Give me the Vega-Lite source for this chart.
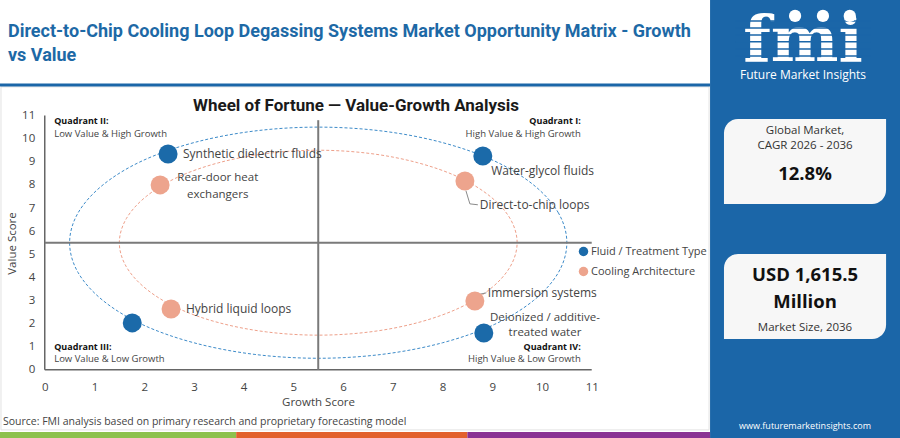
{
  "$schema": "https://vega.github.io/schema/vega-lite/v6.json",
  "width": 900,
  "height": 438,
  "padding": 0,
  "autosize": {"type": "none"},
  "background": "white",
  "config": {"view": {"stroke": null}, "font": "Open Sans"},
  "encoding": {
    "x": {
      "field": "x",
      "type": "quantitative",
      "scale": {"domain": [-0.9, 17.2], "nice": false, "zero": false},
      "axis": {
        "title": "Growth Score",
        "values": [0, 1, 2, 3, 4, 5, 6, 7, 8, 9, 10, 11],
        "offset": -68.2,
        "domain": false,
        "ticks": false,
        "grid": false,
        "labelFlush": false,
        "labelOverlap": false,
        "labelPadding": 12,
        "labelFont": "Open Sans",
        "labelFontSize": 11.5,
        "labelColor": "#444444",
        "titleFont": "Open Sans",
        "titleFontSize": 11.5,
        "titleFontWeight": "normal",
        "titleColor": "#444444",
        "titleX": 318,
        "titleY": 33,
        "titleBaseline": "middle"
      }
    },
    "y": {
      "field": "y",
      "type": "quantitative",
      "scale": {"domain": [-2.95, 16], "nice": false, "zero": false},
      "axis": {
        "title": "Value Score",
        "values": [0, 1, 2, 3, 4, 5, 6, 7, 8, 9, 10, 11],
        "offset": -44.75,
        "domain": false,
        "ticks": false,
        "grid": false,
        "labelFlush": false,
        "labelOverlap": false,
        "labelPadding": 10,
        "labelFont": "Open Sans",
        "labelFontSize": 11.5,
        "labelColor": "#444444",
        "titleFont": "Open Sans",
        "titleFontSize": 11.5,
        "titleFontWeight": "normal",
        "titleColor": "#444444",
        "titleX": -32.75,
        "titleY": 243,
        "titleBaseline": "middle"
      }
    }
  },
  "layer": [
    {
      "data": {"values": [{"x": 13.38, "x2": 17.2, "y": -2.95, "y2": 16}]},
      "mark": {"type": "rect", "fill": "#1b66a8"},
      "encoding": {"x2": {"field": "x2"}, "y2": {"field": "y2"}}
    },
    {
      "data": {"values": [{"x": -0.88, "x2": 13.36, "y": -2.6, "y2": 12.24}]},
      "mark": {"type": "rect", "fill": null, "stroke": "#e2e2e2", "strokeWidth": 1},
      "encoding": {"x2": {"field": "x2"}, "y2": {"field": "y2"}}
    },
    {
      "data": {"values": [{"x": -0.9, "x2": 3.85, "y": -2.95, "y2": -2.69}]},
      "mark": {"type": "rect", "fill": "#8dc14d"},
      "encoding": {"x2": {"field": "x2"}, "y2": {"field": "y2"}}
    },
    {
      "data": {"values": [{"x": 3.85, "x2": 8.5, "y": -2.95, "y2": -2.69}]},
      "mark": {"type": "rect", "fill": "#e2612d"},
      "encoding": {"x2": {"field": "x2"}, "y2": {"field": "y2"}}
    },
    {
      "data": {"values": [{"x": 8.5, "x2": 13.38, "y": -2.95, "y2": -2.69}]},
      "mark": {"type": "rect", "fill": "#8a3293"},
      "encoding": {"x2": {"field": "x2"}, "y2": {"field": "y2"}}
    },
    {
      "data": {"values": [{"x": -0.9, "x2": 13.38, "y": 12.32}]},
      "mark": {"type": "rule", "color": "#1b66a8", "strokeWidth": 3},
      "encoding": {"x2": {"field": "x2"}}
    },
    {
      "data": {"values": [
        {"i": 0, "x": 10.5, "y": 5.5}, {"i": 1, "x": 10.33, "y": 6.79},
        {"i": 2, "x": 9.83, "y": 8.0}, {"i": 3, "x": 9.04, "y": 9.04},
        {"i": 4, "x": 8.0, "y": 9.83}, {"i": 5, "x": 6.79, "y": 10.33},
        {"i": 6, "x": 5.5, "y": 10.5}, {"i": 7, "x": 4.21, "y": 10.33},
        {"i": 8, "x": 3.0, "y": 9.83}, {"i": 9, "x": 1.96, "y": 9.04},
        {"i": 10, "x": 1.17, "y": 8.0}, {"i": 11, "x": 0.67, "y": 6.79},
        {"i": 12, "x": 0.5, "y": 5.5}, {"i": 13, "x": 0.67, "y": 4.21},
        {"i": 14, "x": 1.17, "y": 3.0}, {"i": 15, "x": 1.96, "y": 1.96},
        {"i": 16, "x": 3.0, "y": 1.17}, {"i": 17, "x": 4.21, "y": 0.67},
        {"i": 18, "x": 5.5, "y": 0.5}, {"i": 19, "x": 6.79, "y": 0.67},
        {"i": 20, "x": 8.0, "y": 1.17}, {"i": 21, "x": 9.04, "y": 1.96},
        {"i": 22, "x": 9.83, "y": 3.0}, {"i": 23, "x": 10.33, "y": 4.21}
      ]},
      "mark": {"type": "line", "interpolate": "cardinal-closed", "color": "#3d8bc9", "strokeWidth": 1, "strokeDash": [3, 2]},
      "encoding": {"order": {"field": "i", "type": "quantitative"}}
    },
    {
      "data": {"values": [
        {"i": 0, "x": 9.5, "y": 5.5}, {"i": 1, "x": 9.36, "y": 6.54},
        {"i": 2, "x": 8.96, "y": 7.5}, {"i": 3, "x": 8.33, "y": 8.33},
        {"i": 4, "x": 7.5, "y": 8.96}, {"i": 5, "x": 6.54, "y": 9.36},
        {"i": 6, "x": 5.5, "y": 9.5}, {"i": 7, "x": 4.46, "y": 9.36},
        {"i": 8, "x": 3.5, "y": 8.96}, {"i": 9, "x": 2.67, "y": 8.33},
        {"i": 10, "x": 2.04, "y": 7.5}, {"i": 11, "x": 1.64, "y": 6.54},
        {"i": 12, "x": 1.5, "y": 5.5}, {"i": 13, "x": 1.64, "y": 4.46},
        {"i": 14, "x": 2.04, "y": 3.5}, {"i": 15, "x": 2.67, "y": 2.67},
        {"i": 16, "x": 3.5, "y": 2.04}, {"i": 17, "x": 4.46, "y": 1.64},
        {"i": 18, "x": 5.5, "y": 1.5}, {"i": 19, "x": 6.54, "y": 1.64},
        {"i": 20, "x": 7.5, "y": 2.04}, {"i": 21, "x": 8.33, "y": 2.67},
        {"i": 22, "x": 8.96, "y": 3.5}, {"i": 23, "x": 9.36, "y": 4.46}
      ]},
      "mark": {"type": "line", "interpolate": "cardinal-closed", "color": "#eea08a", "strokeWidth": 1, "strokeDash": [3, 2]},
      "encoding": {"order": {"field": "i", "type": "quantitative"}}
    },
    {
      "data": {"values": [
        {"x": 0, "y": 0, "x2": 11, "y2": 0},
        {"x": 0, "y": 0, "x2": 0, "y2": 11}
      ]},
      "mark": {"type": "rule", "color": "#666666", "strokeWidth": 1.5},
      "encoding": {"x2": {"field": "x2"}, "y2": {"field": "y2"}}
    },
    {
      "data": {"values": [
        {"x": 5.5, "y": 0, "x2": 5.5, "y2": 10.8},
        {"x": 0, "y": 5.5, "x2": 11, "y2": 5.5}
      ]},
      "mark": {"type": "rule", "color": "#7a7a7a", "strokeWidth": 2},
      "encoding": {"x2": {"field": "x2"}, "y2": {"field": "y2"}}
    },
    {
      "data": {"values": [
        {"g": "a", "i": 0, "x": 8.47, "y": 7.75},
        {"g": "a", "i": 1, "x": 8.55, "y": 7.18},
        {"g": "a", "i": 2, "x": 8.71, "y": 7.14},
        {"g": "b", "i": 0, "x": 8.75, "y": 3.27},
        {"g": "b", "i": 1, "x": 8.88, "y": 3.33}
      ]},
      "mark": {"type": "line", "color": "#8a8a8a", "strokeWidth": 1},
      "encoding": {"detail": {"field": "g"}, "order": {"field": "i", "type": "quantitative"}}
    },
    {
      "data": {"values": [
        {"name": "Synthetic dielectric fluids", "group": "Fluid / Treatment Type", "x": 2.48, "y": 9.34},
        {"name": "Water-glycol fluids", "group": "Fluid / Treatment Type", "x": 8.81, "y": 9.25},
        {"name": "Unlabelled fluid", "group": "Fluid / Treatment Type", "x": 1.76, "y": 2.03},
        {"name": "Deionized / additive-treated water", "group": "Fluid / Treatment Type", "x": 8.83, "y": 1.59},
        {"name": "Rear-door heat exchangers", "group": "Cooling Architecture", "x": 2.32, "y": 8.0},
        {"name": "Direct-to-chip loops", "group": "Cooling Architecture", "x": 8.45, "y": 8.17},
        {"name": "Hybrid liquid loops", "group": "Cooling Architecture", "x": 2.54, "y": 2.63},
        {"name": "Immersion systems", "group": "Cooling Architecture", "x": 8.65, "y": 2.98}
      ]},
      "mark": {"type": "circle", "size": 360, "opacity": 1},
      "encoding": {
        "color": {
          "field": "group",
          "type": "nominal",
          "scale": {"domain": ["Fluid / Treatment Type", "Cooling Architecture"], "range": ["#1b6aa9", "#eda48d"]},
          "legend": {
            "orient": "none",
            "legendX": 578,
            "legendY": 246,
            "title": null,
            "padding": 0,
            "symbolType": "circle",
            "symbolSize": 90,
            "symbolStrokeWidth": 0,
            "rowPadding": 8,
            "labelOffset": 2,
            "labelFont": "Open Sans",
            "labelFontSize": 11,
            "labelColor": "#444444"
          }
        },
        "tooltip": [{"field": "name"}, {"field": "x", "title": "Growth"}, {"field": "y", "title": "Value"}]
      }
    },
    {
      "data": {"values": [
        {"t": "Synthetic dielectric fluids", "x": 2.78, "y": 9.34},
        {"t": "Water-glycol fluids", "x": 8.98, "y": 8.6},
        {"t": "Direct-to-chip loops", "x": 8.75, "y": 7.13},
        {"t": "Immersion systems", "x": 8.91, "y": 3.32},
        {"t": "Hybrid liquid loops", "x": 2.84, "y": 2.63}
      ]},
      "mark": {"type": "text", "align": "left", "baseline": "middle", "font": "Open Sans", "fontSize": 12, "color": "#444444"},
      "encoding": {"text": {"field": "t"}}
    },
    {
      "data": {"values": [
        {"t": "Rear-door heat", "x": 3.48, "y": 8.3},
        {"t": "exchangers", "x": 3.48, "y": 7.56},
        {"t": "Deionized / additive-", "x": 10.06, "y": 2.26},
        {"t": "treated water", "x": 10.06, "y": 1.6}
      ]},
      "mark": {"type": "text", "align": "center", "baseline": "middle", "font": "Open Sans", "fontSize": 11.5, "color": "#444444"},
      "encoding": {"text": {"field": "t"}}
    },
    {
      "data": {"values": [
        {"t": "Quadrant II:", "x": 0.19, "y": 10.77},
        {"t": "Quadrant III:", "x": 0.19, "y": 0.97}
      ]},
      "mark": {"type": "text", "align": "left", "baseline": "middle", "font": "Open Sans", "fontSize": 9, "fontWeight": "bold", "color": "#111111"},
      "encoding": {"text": {"field": "t"}}
    },
    {
      "data": {"values": [
        {"t": "Low Value & High Growth", "x": 0.19, "y": 10.21},
        {"t": "Low Value & Low Growth", "x": 0.19, "y": 0.45}
      ]},
      "mark": {"type": "text", "align": "left", "baseline": "middle", "font": "Open Sans", "fontSize": 9.5, "color": "#444444"},
      "encoding": {"text": {"field": "t"}}
    },
    {
      "data": {"values": [
        {"t": "Quadrant I:", "x": 10.78, "y": 10.77},
        {"t": "Quadrant IV:", "x": 10.78, "y": 0.97}
      ]},
      "mark": {"type": "text", "align": "right", "baseline": "middle", "font": "Open Sans", "fontSize": 9, "fontWeight": "bold", "color": "#111111"},
      "encoding": {"text": {"field": "t"}}
    },
    {
      "data": {"values": [
        {"t": "High Value & High Growth", "x": 10.78, "y": 10.21},
        {"t": "High Value & Low Growth", "x": 10.78, "y": 0.45}
      ]},
      "mark": {"type": "text", "align": "right", "baseline": "middle", "font": "Open Sans", "fontSize": 9.5, "color": "#444444"},
      "encoding": {"text": {"field": "t"}}
    },
    {
      "data": {"values": [{"t": "Wheel of Fortune \u2014 Value-Growth Analysis", "x": 6.26, "y": 11.41}]},
      "mark": {"type": "text", "align": "center", "baseline": "middle", "font": "Roboto", "fontSize": 17, "fontWeight": "bold", "color": "#1a1a1a"},
      "encoding": {"text": {"field": "t"}}
    },
    {
      "data": {"values": [
        {"t": "Direct-to-Chip Cooling Loop Degassing Systems Market Opportunity Matrix - Growth", "x": -0.74, "y": 14.62},
        {"t": "vs Value", "x": -0.74, "y": 13.58}
      ]},
      "mark": {"type": "text", "align": "left", "baseline": "middle", "font": "Roboto", "fontSize": 18, "fontWeight": "bold", "color": "#1d69a6"},
      "encoding": {"text": {"field": "t"}}
    },
    {
      "data": {"values": [{"t": "Source: FMI analysis based on primary research and proprietary forecasting model", "x": -0.84, "y": -2.26}]},
      "mark": {"type": "text", "align": "left", "baseline": "middle", "font": "Open Sans", "fontSize": 10.5, "color": "#444444"},
      "encoding": {"text": {"field": "t"}}
    },
    {
      "data": {"values": [{"t": "fmi", "x": 15.25, "y": 13.35}]},
      "mark": {"type": "text", "align": "center", "baseline": "alphabetic", "font": "DejaVu Serif", "fontSize": 64, "fontWeight": "bold", "color": "white"},
      "encoding": {"text": {"field": "t"}}
    },
    {
      "data": {"values": [
        {"x": 13.9, "x2": 16.6, "y": 15.09},
        {"x": 13.9, "x2": 16.6, "y": 14.79},
        {"x": 13.9, "x2": 16.6, "y": 14.49},
        {"x": 13.9, "x2": 16.6, "y": 14.19},
        {"x": 13.9, "x2": 16.6, "y": 13.88},
        {"x": 13.9, "x2": 16.6, "y": 13.58}
      ]},
      "mark": {"type": "rule", "color": "#1b66a8", "strokeWidth": 1.5},
      "encoding": {"x2": {"field": "x2"}}
    },
    {
      "data": {"values": [
        {"x": 15.09, "y": 15.31},
        {"x": 15.65, "y": 15.31},
        {"x": 16.19, "y": 15.31}
      ]},
      "mark": {"type": "circle", "size": 150, "color": "white", "opacity": 1}
    },
    {
      "data": {"values": [{"t": "Future Market Insights", "x": 15.25, "y": 12.76}]},
      "mark": {"type": "text", "align": "center", "baseline": "middle", "font": "Open Sans", "fontSize": 12, "color": "white"},
      "encoding": {"text": {"field": "t"}}
    },
    {
      "data": {"values": [{"t": "www.futuremarketinsights.com", "x": 15.29, "y": -2.43}]},
      "mark": {"type": "text", "align": "center", "baseline": "middle", "font": "Open Sans", "fontSize": 9, "color": "white"},
      "encoding": {"text": {"field": "t"}}
    },
    {
      "data": {"values": [
        {"x": 13.66, "x2": 16.92, "y": 10.85, "y2": 7.17},
        {"x": 13.66, "x2": 16.92, "y": 5.01, "y2": 1.33}
      ]},
      "mark": {"type": "rect", "fill": "#f7f7f7", "cornerRadiusTopLeft": 14, "cornerRadiusBottomRight": 14},
      "encoding": {"x2": {"field": "x2"}, "y2": {"field": "y2"}}
    },
    {
      "data": {"values": [
        {"t": "Global Market,", "x": 15.29, "y": 10.33},
        {"t": "CAGR 2026 - 2036", "x": 15.29, "y": 9.68},
        {"t": "Market Size, 2036", "x": 15.29, "y": 1.81}
      ]},
      "mark": {"type": "text", "align": "center", "baseline": "middle", "font": "Open Sans", "fontSize": 11.5, "color": "#333333"},
      "encoding": {"text": {"field": "t"}}
    },
    {
      "data": {"values": [
        {"t": "12.8%", "x": 15.29, "y": 8.47},
        {"t": "USD 1,615.5", "x": 15.29, "y": 4.1},
        {"t": "Million", "x": 15.29, "y": 2.93}
      ]},
      "mark": {"type": "text", "align": "center", "baseline": "middle", "font": "Open Sans", "fontSize": 18.5, "fontWeight": "bold", "color": "#111111"},
      "encoding": {"text": {"field": "t"}}
    }
  ]
}
